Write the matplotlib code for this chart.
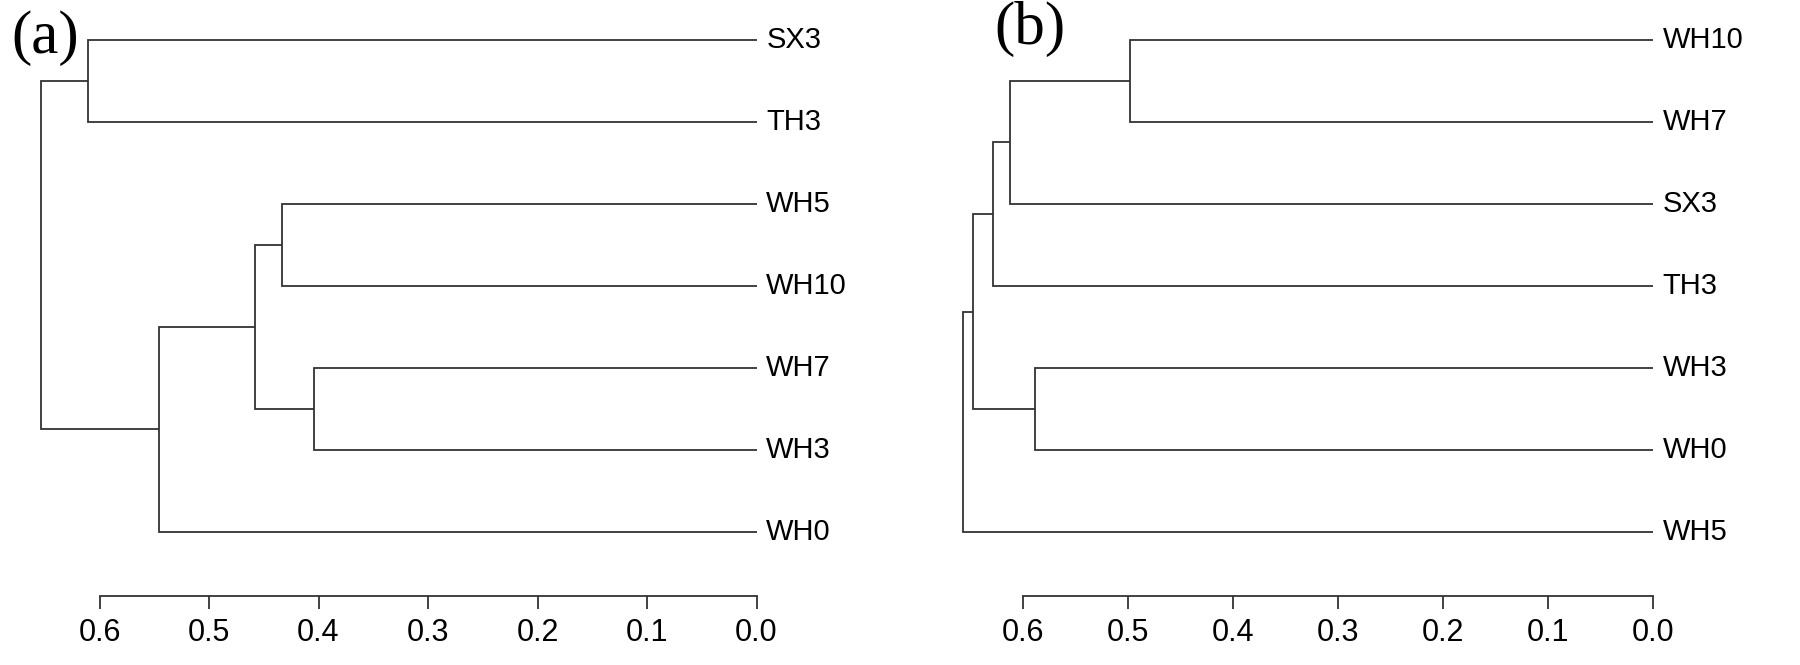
import matplotlib.pyplot as plt

plt.rcParams["font.family"] = ["Liberation Sans", "DejaVu Sans"]

# panel (a): leaf order top to bottom, then merges (child, child, height)
# a child is a leaf name or the index of an earlier merge
leaves_a = ["SX3", "TH3", "WH5", "WH10", "WH7", "WH3", "WH0"]
merges_a = [
    ("WH5", "WH10", 0.433),
    ("WH7", "WH3", 0.404),
    (0, 1, 0.458),
    (2, "WH0", 0.5455),
    ("SX3", "TH3", 0.6107),
    (4, 3, 0.6532),
]

# panel (b)
leaves_b = ["WH10", "WH7", "SX3", "TH3", "WH3", "WH0", "WH5"]
merges_b = [
    ("WH10", "WH7", 0.498),
    ("WH3", "WH0", 0.5883),
    (0, "SX3", 0.6118),
    (2, "TH3", 0.6286),
    (3, 1, 0.647),
    (4, "WH5", 0.6569),
]

ticks = [0.6, 0.5, 0.4, 0.3, 0.2, 0.1, 0.0]

LINE = "#333333"
W, H = 1800, 665


def draw_dendrogram(ax, leaves, merges):
    pos = {name: (i, 0.0) for i, name in enumerate(leaves)}
    done = []
    for left, right, h in merges:
        yl, hl = pos[left] if isinstance(left, str) else done[left]
        yr, hr = pos[right] if isinstance(right, str) else done[right]
        ax.plot([hl, h, h, hr], [yl, yl, yr, yr], color=LINE, lw=1.3,
                solid_capstyle="butt", solid_joinstyle="miter")
        done.append(((yl + yr) / 2, h))

    for i, name in enumerate(leaves):
        ax.annotate(name, (0.0, i), xytext=(7, 0), textcoords="offset points",
                    ha="left", va="center", fontsize=21, annotation_clip=False)

    ax.set_xlim(0.68, 0.0)
    # leaf i sits at 40 + 82*i px from the top, axis line at 596 px
    ax.set_ylim((596 - 40) / 82, -40 / 82)
    for s in ["top", "left", "right"]:
        ax.spines[s].set_visible(False)
    ax.spines["bottom"].set_bounds(0.0, 0.6)
    ax.spines["bottom"].set_color(LINE)
    ax.spines["bottom"].set_linewidth(1.3)
    ax.set_xticks(ticks)
    ax.set_xticklabels([f"{t:.1f}" for t in ticks])
    ax.tick_params(axis="x", direction="out", length=9, width=1.3,
                   color=LINE, pad=7, labelsize=22)
    ax.set_yticks([])
    ax.patch.set_alpha(0)


fig = plt.figure(figsize=(W / 100, H / 100), dpi=100)

bottom = (H - 596) / H
# x scale: panel a 109.5 px per 0.1, panel b 105 px per 0.1
ax_a = fig.add_axes([(756.5 - 0.68 * 1095) / W, bottom, 0.68 * 1095 / W, 1 - bottom])
ax_b = fig.add_axes([(1652.7 - 0.68 * 1050) / W, bottom, 0.68 * 1050 / W, 1 - bottom])

draw_dendrogram(ax_a, leaves_a, merges_a)
draw_dendrogram(ax_b, leaves_b, merges_b)

fig.text(11 / W, 1 - 10 / H, "(a)", family="Liberation Serif", fontsize=44,
         ha="left", va="top")
fig.text(994 / W, 1 - 1 / H, "(b)", family="Liberation Serif", fontsize=44,
         ha="left", va="top")

fig.savefig("out.png", dpi=100)
